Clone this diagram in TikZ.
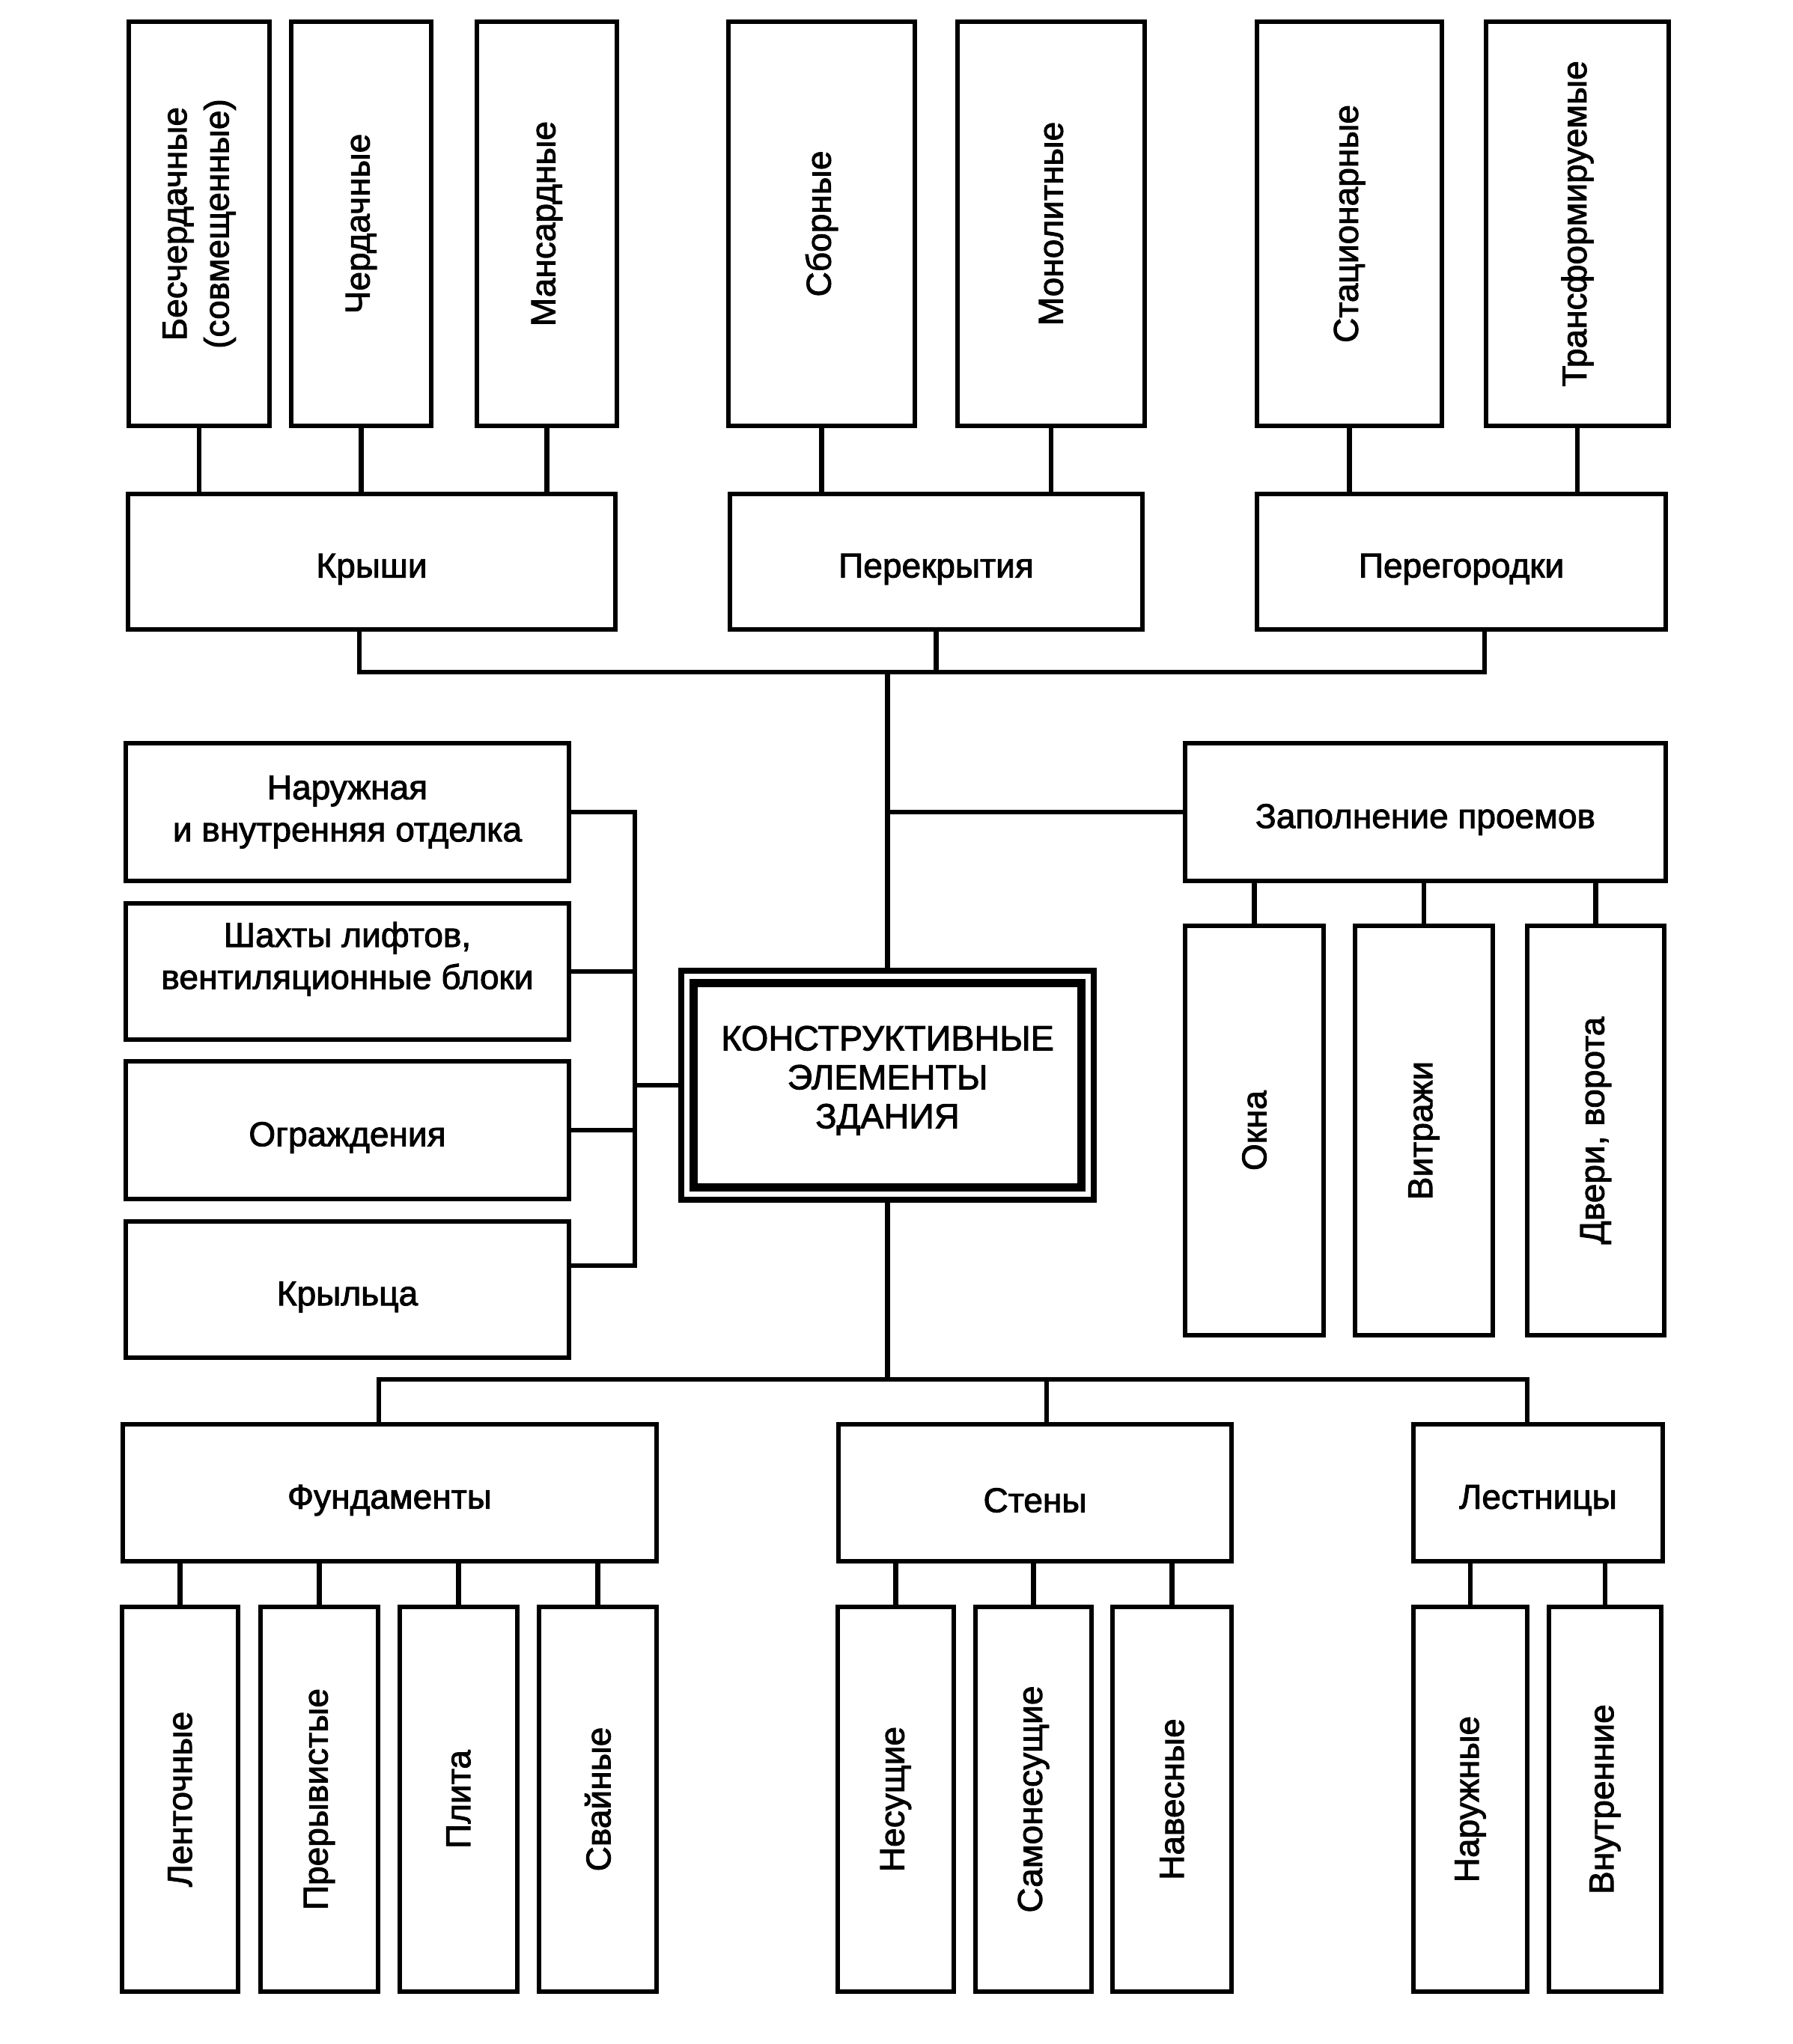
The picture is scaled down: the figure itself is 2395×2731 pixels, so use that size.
\documentclass[tikz,border=0pt]{standalone}
\usepackage{fontspec}
\setmainfont{Liberation Sans}[FakeBold=2]
\usepackage{graphicx}
\newcommand\lblfont{\fontsize{13.1}{16}\selectfont}
\newcommand\cefont{\fontsize{13.3}{14.8}\selectfont}
\newcommand\rottxt[1]{\rotatebox{90}{#1}}
\newcommand\rottwo[2]{\rotatebox{90}{\begin{tabular}{@{}c@{}}#1\\#2\end{tabular}}}
\newcommand\lowtxt[1]{\raisebox{-0.1cm}[\height][\depth]{#1}}
\begin{document}
\begin{tikzpicture}[x=0.01cm,y=-0.01cm,
  box/.style={draw, line width=1.75pt, outer sep=0pt, inner sep=0pt, align=center, font=\lblfont},
  conn/.style={line width=1.8pt}]
\useasboundingbox[fill=white] (0,0) rectangle (2395,2731);

% top row
\node[box, minimum width=1.88cm, minimum height=5.40cm] (b1) at (266,299) {\rottwo{Бесчердачные}{(совмещенные)}};
\node[box, minimum width=1.87cm, minimum height=5.40cm] (b2) at (482.5,299) {\rottxt{Чердачные}};
\node[box, minimum width=1.87cm, minimum height=5.40cm] (b3) at (730.5,299) {\rottxt{Мансардные}};
\node[box, minimum width=2.49cm, minimum height=5.40cm] (b4) at (1097.5,299) {\rottxt{Сборные}};
\node[box, minimum width=2.50cm, minimum height=5.40cm] (b5) at (1404,299) {\rottxt{Монолитные}};
\node[box, minimum width=2.47cm, minimum height=5.40cm] (b6) at (1802.5,299) {\rottxt{Стационарные}};
\node[box, minimum width=2.44cm, minimum height=5.40cm] (b7) at (2107,299) {\rottxt{Трансформируемые}};

% second row
\node[box, minimum width=6.51cm, minimum height=1.81cm] (kr) at (496.5,750.5) {\lowtxt{Крыши}};
\node[box, minimum width=5.51cm, minimum height=1.81cm] (pk) at (1250.5,750.5) {\lowtxt{Перекрытия}};
\node[box, minimum width=5.46cm, minimum height=1.81cm] (pg) at (1952,750.5) {\lowtxt{Перегородки}};

% centre
\node[box, line width=0.08cm, minimum width=5.51cm, minimum height=3.06cm, font=\cefont] (ce) at (1185.5,1450) {\raisebox{0.05cm}[\height][\depth]{\begin{tabular}{@{}c@{}}КОНСТРУКТИВНЫЕ\\ЭЛЕМЕНТЫ\\ЗДАНИЯ\end{tabular}}};
\draw[line width=0.11cm] ([xshift=0.165cm,yshift=-0.165cm]ce.north west) rectangle ([xshift=-0.165cm,yshift=0.165cm]ce.south east);

% left column
\node[box, minimum width=5.92cm, minimum height=1.84cm] (nar) at (464,1085) {Наружная\\и внутренняя отделка};
\node[box, minimum width=5.92cm, minimum height=1.82cm] (sh) at (464,1298) {\raisebox{0.16cm}[\height][\depth]{\begin{tabular}{@{}c@{}}Шахты лифтов,\\вентиляционные блоки\end{tabular}}};
\node[box, minimum width=5.92cm, minimum height=1.84cm] (og) at (464,1510) {\lowtxt{Ограждения}};
\node[box, minimum width=5.92cm, minimum height=1.82cm] (kc) at (464,1723) {\lowtxt{Крыльца}};

% right group
\node[box, minimum width=6.42cm, minimum height=1.84cm] (zp) at (1904,1085) {\lowtxt{Заполнение проемов}};
\node[box, minimum width=1.85cm, minimum height=5.47cm] (ok) at (1675.5,1510.5) {\rottxt{Окна}};
\node[box, minimum width=1.84cm, minimum height=5.47cm] (vi) at (1902,1510.5) {\rottxt{Витражи}};
\node[box, minimum width=1.83cm, minimum height=5.47cm] (dv) at (2131.5,1510.5) {\rottxt{Двери, ворота}};

% bottom parents
\node[box, minimum width=7.13cm, minimum height=1.83cm] (fu) at (520.5,1994.5) {\lowtxt{Фундаменты}};
\node[box, minimum width=5.25cm, minimum height=1.83cm] (st) at (1382.5,1994.5) {\lowtxt{Стены}};
\node[box, minimum width=3.33cm, minimum height=1.83cm] (le) at (2054.5,1994.5) {\lowtxt{Лестницы}};

% bottom children
\node[box, minimum width=1.55cm, minimum height=5.14cm] (c1) at (240.5,2404) {\rottxt{Ленточные}};
\node[box, minimum width=1.57cm, minimum height=5.14cm] (c2) at (426.5,2404) {\rottxt{Прерывистые}};
\node[box, minimum width=1.57cm, minimum height=5.14cm] (c3) at (612.5,2404) {\rottxt{Плита}};
\node[box, minimum width=1.57cm, minimum height=5.14cm] (c4) at (798.5,2404) {\rottxt{Свайные}};
\node[box, minimum width=1.55cm, minimum height=5.14cm] (c5) at (1196.5,2404) {\rottxt{Несущие}};
\node[box, minimum width=1.55cm, minimum height=5.14cm] (c6) at (1380.5,2404) {\rottxt{Самонесущие}};
\node[box, minimum width=1.59cm, minimum height=5.14cm] (c7) at (1565.5,2404) {\rottxt{Навесные}};
\node[box, minimum width=1.52cm, minimum height=5.14cm] (c8) at (1964,2404) {\rottxt{Наружные}};
\node[box, minimum width=1.50cm, minimum height=5.14cm] (c9) at (2144,2404) {\rottxt{Внутренние}};

% connectors: top
\foreach \a/\p in {b1/kr,b2/kr,b3/kr,b4/pk,b5/pk,b6/pg,b7/pg}
  \draw[conn] (\a.south) -- (\a.south |- \p.north);
\coordinate (tbL) at (480,898);
\coordinate (tbR) at (1983,898);
\draw[conn] (tbL |- kr.south) -- (tbL) -- (tbR) -- (tbR |- pg.south);
\draw[conn] (pk.south) -- (pk.south |- tbL);
\draw[conn] (ce.north) -- (ce.north |- tbL);
\draw[conn] (zp.west) -- (zp.west -| ce.north);

% connectors: left
\coordinate (lbT) at (848,1085);
\coordinate (lbB) at (848,1691);
\draw[conn] (nar.east) -- (lbT) -- (lbB) -- (lbB -| kc.east);
\draw[conn] (sh.east) -- (sh.east -| lbT);
\draw[conn] (og.east) -- (og.east -| lbT);
\draw[conn] (ce.west) -- (ce.west -| lbT);

% connectors: right children
\foreach \a in {ok,vi,dv}
  \draw[conn] (\a.north) -- (\a.north |- zp.south);

% connectors: bottom
\coordinate (bbL) at (506,1843);
\coordinate (bbR) at (2040,1843);
\coordinate (bbM) at (1398,1843);
\draw[conn] (bbL |- fu.north) -- (bbL) -- (bbR) -- (bbR |- le.north);
\draw[conn] (ce.south) -- (ce.south |- bbL);
\draw[conn] (bbM) -- (bbM |- st.north);
\foreach \a/\p in {c1/fu,c2/fu,c3/fu,c4/fu,c5/st,c6/st,c7/st,c8/le,c9/le}
  \draw[conn] (\a.north) -- (\a.north |- \p.south);
\end{tikzpicture}
\end{document}
